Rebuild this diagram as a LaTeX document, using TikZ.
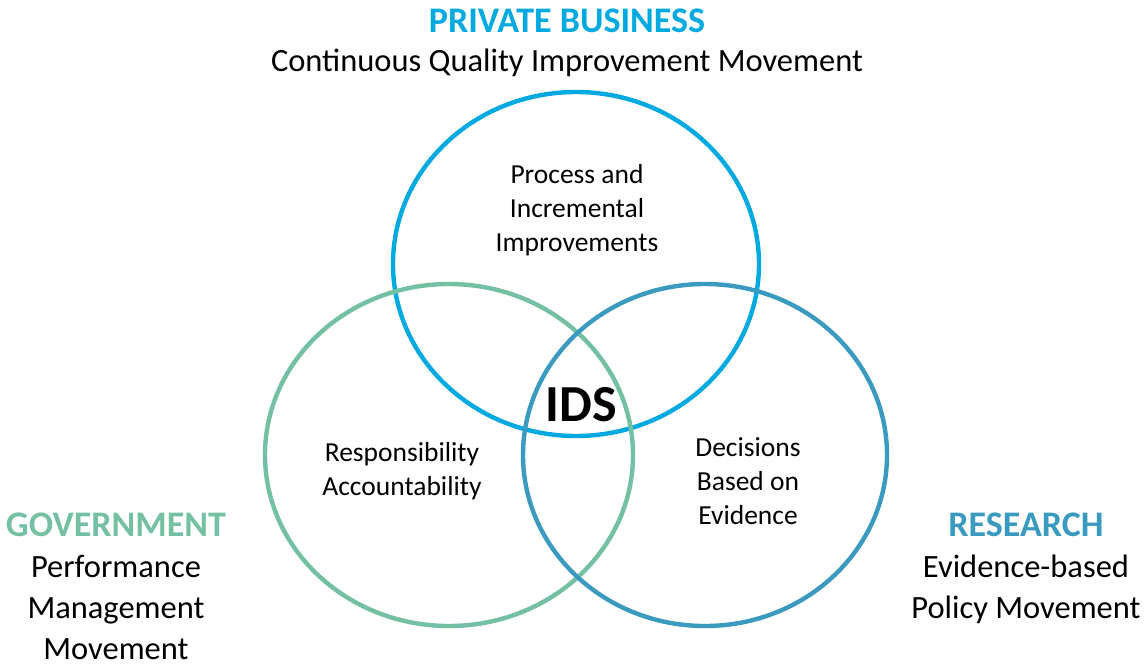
\documentclass[tikz,border=0pt]{standalone}
\usepackage{fontspec}
\setmainfont{Carlito}
\definecolor{pbblue}{HTML}{00A9E0}
\definecolor{govteal}{HTML}{74C0A3}
\definecolor{resblue}{HTML}{3A9AC0}
\begin{document}
\begin{tikzpicture}[x=1pt,y=-1pt,
  ring/.style={line width=4.4pt},
  title/.style={font=\fontsize{36}{40}\selectfont\bfseries, inner sep=0pt, anchor=center},
  body/.style={font=\fontsize{32.5}{41}\selectfont, align=center, inner sep=0pt, anchor=north},
  inner/.style={font=\fontsize{27.5}{34}\selectfont, align=center, inner sep=0pt, anchor=center}]
\useasboundingbox (0,0) rectangle (1146,664);
% circles
\draw[ring, pbblue] (576,264) ellipse [x radius=183, y radius=172];
\draw[ring, govteal] (449,455) ellipse [x radius=184, y radius=171];
\draw[ring, resblue] (705,455) ellipse [x radius=182, y radius=171];
% titles
\node[title, text=pbblue] (pbt) at (567,21) {PRIVATE BUSINESS};
\node[body, anchor=center] (pbb) at (567,63) {Continuous Quality Improvement Movement};
\node[title, text=govteal] (gvt) at (116,525) {GOVERNMENT};
\node[body] (gvb) at (116,555) {Performance\\Management\\Movement};
\node[title, text=resblue] (rst) at (1026,525) {RESEARCH};
\node[body] (rsb) at (1026,555) {Evidence-based\\Policy Movement};
% inner texts
\node[inner] (proc) at (577,210) {Process and\\Incremental\\Improvements};
\node[inner] (resp) at (402,471) {Responsibility\\Accountability};
\node[inner] (dec) at (748,481) {Decisions\\Based on\\Evidence};
\node[font=\fontsize{52}{58}\selectfont\bfseries, inner sep=0pt] (ids) at (581,405) {IDS};
\end{tikzpicture}
\end{document}
